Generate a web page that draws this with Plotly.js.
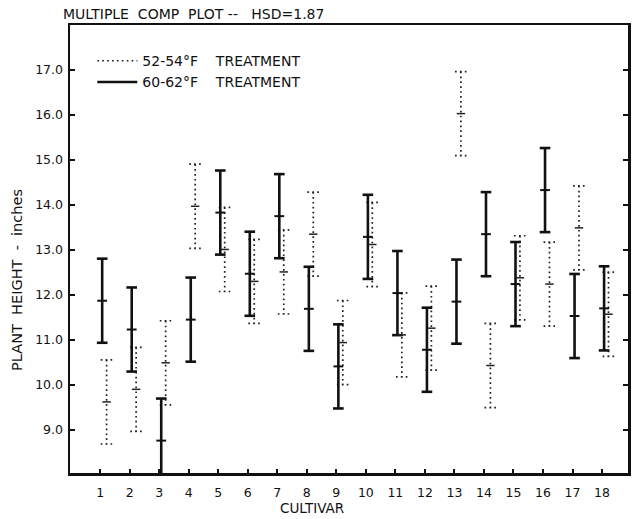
<!DOCTYPE html>
<html>
<head>
<meta charset="utf-8">
<script src="https://cdn.plot.ly/plotly-3.0.1.min.js"></script>
<style>html,body{margin:0;padding:0;background:#fff;}#chart{width:632px;height:519px;}</style>
</head>
<body>
<div id="chart"></div>
<script>
const cultivars = [1,2,3,4,5,6,7,8,9,10,11,12,13,14,15,16,17,18];
const tickLabels = ["1","2","3","4","5","6","7","8","9","10","11","12","13","14","15","16","17","18"];
const mean5254 = [9.62, 9.90, 10.49, 13.97, 13.01, 12.30, 12.51, 13.35, 10.94, 13.12, 11.11, 11.26, 16.03, 10.43, 12.38, 12.24, 13.49, 11.57];
const mean6062 = [11.87, 11.23, 8.76, 11.45, 13.83, 12.47, 13.75, 11.69, 10.41, 13.29, 12.04, 10.78, 11.85, 13.35, 12.24, 14.33, 11.53, 11.70];
const hsd = 1.87;
const yTickVals = [9,10,11,12,13,14,15,16,17];
const yTickText = ["9.0","10.0","11.0","12.0","13.0","14.0","15.0","16.0","17.0"];

const FONT = "DejaVu Sans, sans-serif";

function barPath(means, off, cap) {
  const xs = [], ys = [];
  means.forEach((m, i) => {
    const x = cultivars[i] + off;
    const hi = m + hsd / 2, lo = m - hsd / 2;
    xs.push(x - cap, x + cap, null, x, x, null, x - cap, x + cap, null);
    ys.push(hi, hi, null, hi, lo, null, lo, lo, null);
  });
  return {xs, ys};
}

const offDot = 0.22, offSolid = 0.07;
const pDot = barPath(mean5254, offDot, 0.2);
const pSolid = barPath(mean6062, offSolid, 0.18);

const traces = [
  {x: pDot.xs, y: pDot.ys, mode: 'lines', name: '52-54°F    TREATMENT',
   line: {color: '#222', width: 1.7, dash: '1.7px,3.2px'}, hoverinfo: 'skip'},
  {x: pSolid.xs, y: pSolid.ys, mode: 'lines', name: '60-62°F    TREATMENT',
   line: {color: '#111', width: 2.6}, hoverinfo: 'skip'},
  {x: cultivars.map(c => c + offDot), y: mean5254, mode: 'markers', showlegend: false,
   marker: {symbol: 'line-ew', size: 6, line: {color: '#222', width: 1.5}}},
  {x: cultivars.map(c => c + offSolid), y: mean6062, mode: 'markers', showlegend: false,
   marker: {symbol: 'line-ew', size: 7, line: {color: '#111', width: 2}}}
];

const layout = {
  width: 632, height: 519,
  margin: {l: 70, r: 4, t: 25, b: 46},
  paper_bgcolor: '#fff', plot_bgcolor: '#fff',
  font: {family: FONT, color: '#111', size: 12},
  showlegend: true,
  legend: {x: 0.04, y: 0.955, xanchor: 'left', yanchor: 'top', bgcolor: 'rgba(0,0,0,0)',
           font: {family: FONT, size: 14, color: '#111'}, tracegroupgap: 2, itemwidth: 40},
  xaxis: {range: [-0.02, 18.88], tickvals: cultivars, ticktext: tickLabels,
          ticks: 'inside', ticklen: 4, tickwidth: 2, tickcolor: '#111', ticklabelstandoff: 6,
          showline: true, linecolor: '#111', linewidth: 2.5, mirror: true,
          showgrid: false, zeroline: false, tickfont: {size: 12.5, family: FONT}},
  yaxis: {range: [8.04, 18.0], tickvals: yTickVals, ticktext: yTickText,
          ticks: 'inside', ticklen: 5, tickwidth: 2, tickcolor: '#111', ticklabelstandoff: 2,
          showline: true, linecolor: '#111', linewidth: 2.5, mirror: 'ticks',
          showgrid: false, zeroline: false, tickfont: {size: 12.5, family: FONT}},
  annotations: [
    {text: 'MULTIPLE  COMP  PLOT --   HSD=1.87', xref: 'paper', yref: 'paper',
     x: -0.016, y: 1.0, xanchor: 'left', yanchor: 'bottom', yshift: 1, showarrow: false,
     font: {family: FONT, size: 14, color: '#111'}},
    {text: 'CULTIVAR', xref: 'paper', yref: 'paper', x: 0.434, y: 0, yshift: -35,
     xanchor: 'center', yanchor: 'middle', showarrow: false,
     font: {family: FONT, size: 13.5, color: '#111'}},
    {text: 'PLANT  HEIGHT  -  inches', xref: 'paper', yref: 'paper', x: 0, xshift: -53,
     y: 0.431, textangle: -90, xanchor: 'center', yanchor: 'middle', showarrow: false,
     font: {family: FONT, size: 14.5, color: '#111'}}
  ]
};

Plotly.newPlot('chart', traces, layout, {displayModeBar: false, staticPlot: true});
</script>
</body>
</html>
